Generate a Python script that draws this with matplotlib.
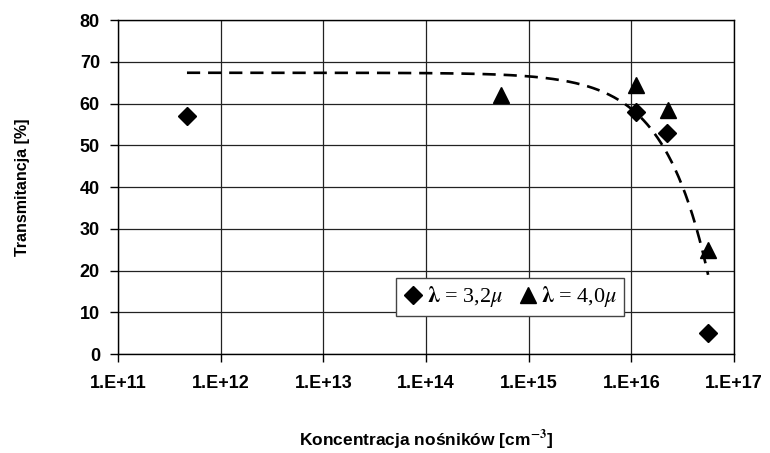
import numpy as np
import matplotlib
matplotlib.use("Agg")
import matplotlib.pyplot as plt
from matplotlib.ticker import FixedLocator, NullLocator

# Data
x_32 = [4.7e11, 1.12e16, 2.25e16, 5.6e16]
y_32 = [57, 58, 53, 5]
x_40 = [5.4e14, 1.12e16, 2.3e16, 5.6e16]
y_40 = [62, 64.5, 58.5, 25]

x_ticks = [1e11, 1e12, 1e13, 1e14, 1e15, 1e16, 1e17]
x_ticklabels = ["1.E+11", "1.E+12", "1.E+13", "1.E+14", "1.E+15", "1.E+16", "1.E+17"]
y_ticks = [0, 10, 20, 30, 40, 50, 60, 70, 80]

# Linear trend line fitted to all points (as in the original spreadsheet)
all_x = np.array(x_32 + x_40)
all_y = np.array(y_32 + y_40)
slope, intercept = np.polyfit(all_x, all_y, 1)
tx = np.logspace(np.log10(all_x.min()), np.log10(all_x.max()), 300)
ty = slope * tx + intercept

plt.rcParams["mathtext.fontset"] = "stix"

fig = plt.figure(figsize=(7.7, 4.53), dpi=100)
ax = fig.add_axes([0.1532, 0.2185, 0.8, 0.7373])

ax.set_xscale("log")
ax.set_xlim(1e11, 1e17)
ax.set_ylim(0, 80)

ax.plot(tx, ty, color="black", lw=1.9, linestyle=(0, (5, 3)), zorder=2)
ax.plot(x_32, y_32, linestyle="none", marker="D", markersize=9, color="black",
        label=r"$\mathbf{\lambda}$ = 3,2$\mu$", zorder=3)
ax.plot(x_40, y_40, linestyle="none", marker="^", markersize=11.5, color="black",
        label=r"$\mathbf{\lambda}$ = 4,0$\mu$", zorder=3)

ax.xaxis.set_major_locator(FixedLocator(x_ticks))
ax.xaxis.set_minor_locator(NullLocator())
ax.set_xticklabels(x_ticklabels)
ax.set_yticks(y_ticks)

ax.grid(True, color="#222222", lw=0.9)
ax.set_axisbelow(True)
for s in ax.spines.values():
    s.set_color("black")
    s.set_linewidth(1.0)

ax.tick_params(axis="both", direction="out", length=6, width=1, colors="black",
               labelsize=13, pad=7)
ax.tick_params(axis="x", pad=9)
for lab in ax.get_xticklabels() + ax.get_yticklabels():
    lab.set_fontweight("bold")
    lab.set_fontfamily("Liberation Sans")

ax.set_xlabel("Koncentracja nośników [cm$^{\\mathbf{-3}}$]", fontsize=12.5,
              fontweight="bold", family="Liberation Sans", labelpad=26)
ax.set_ylabel("Transmitancja [%]", fontsize=11.5, fontweight="bold",
              family="Liberation Sans", labelpad=36)

leg = ax.legend(loc="center", bbox_to_anchor=(0.636, 0.171), ncol=2,
                frameon=True, fancybox=False, edgecolor="#444444", framealpha=1,
                handletextpad=0.1, columnspacing=0.6, handlelength=1.0,
                borderpad=0.3, prop={"family": "Liberation Serif", "size": 16})
leg.get_frame().set_linewidth(1.0)

fig.savefig("out.png", dpi=100)
